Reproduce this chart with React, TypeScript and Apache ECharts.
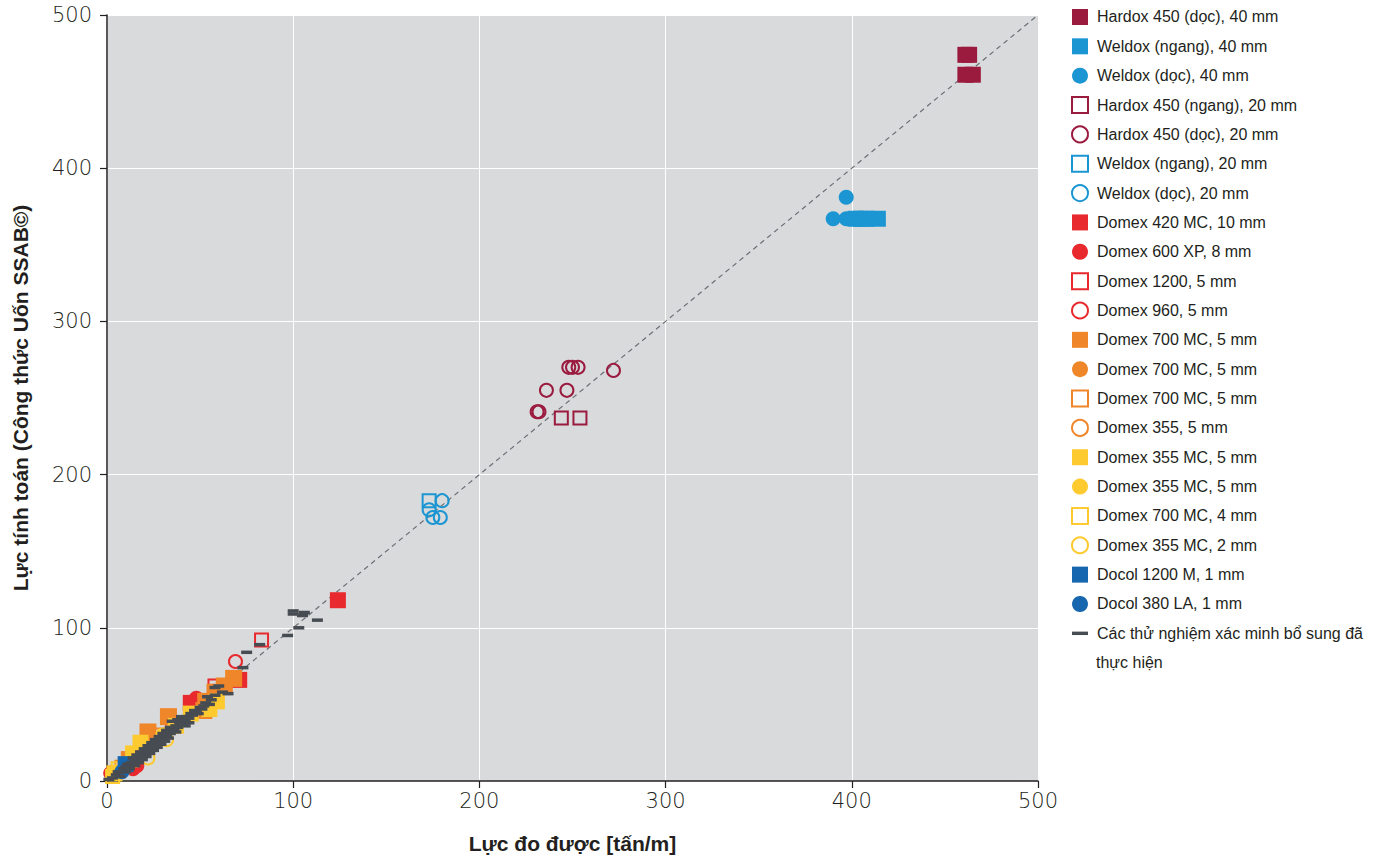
import React, { useEffect, useRef } from "react";
import * as echarts from "echarts";

const ZW = "\u200B";

// ---- data (measured force [tấn/m], calculated force) ----
const hardox40Doc = [[461, 474], [463, 474], [461, 461], [465, 461]];
const weldox40Ngang = [[402, 367], [405, 367], [408, 367], [414, 367]];
const weldox40Doc = [[390, 367], [397, 381], [397, 367], [401, 367], [407, 367]];
const hardox20Ngang = [[244, 237], [254, 237]];
const hardox20Doc = [[231, 241], [232, 241], [236, 255], [247, 255], [248, 270], [250, 270], [253, 270], [272, 268]];
const weldox20Ngang = [[173, 183]];
const weldox20Doc = [[180, 183], [173, 177], [175, 172], [179, 172]];
const domex420 = [[124, 118], [71, 66], [45, 51]];
const domex600 = [[2, 5], [14, 8], [16, 10], [48, 54]];
const domex1200 = [[83, 92], [58, 62], [4, 5]];
const domex960 = [[69, 78], [12, 10]];
const domex700Sq = [[68, 67], [63, 62], [58, 58], [53, 52], [52, 46], [33, 42], [22, 32], [12, 14]];
const domex700Circ = [[22, 25], [45, 44]];
const domex700Hollow = [[8, 9], [28, 30]];
const domex355Hollow = [[18, 20], [35, 35]];
const domex355McSq = [[59, 52], [55, 47], [45, 44], [37, 36], [18, 25], [14, 18], [4, 5]];
const domex355McCirc = [[20, 22], [30, 30]];
const domex700_4mm = [[6, 8], [3, 3]];
const domex355_2mm = [[22, 15], [32, 27], [5, 6]];
const docol1200 = [[10, 11]];
const docol380 = [[8, 6]];
const extraTests = [
  [1, 1], [3, 2], [5, 4], [6, 6], [7, 3], [8, 6], [9, 8], [10, 9], [10, 6], [11, 11],
  [12, 10], [12, 8], [13, 12], [14, 11], [14, 15], [15, 13], [15, 10], [16, 14], [16, 17], [17, 15],
  [17, 12], [18, 16], [18, 19], [19, 18], [19, 14], [20, 17], [20, 21], [21, 20], [21, 16], [22, 19],
  [22, 23], [23, 22], [23, 18], [24, 21], [24, 25], [25, 24], [25, 20], [26, 23], [26, 27], [27, 26],
  [27, 22], [28, 25], [28, 29], [29, 28], [29, 24], [30, 27], [30, 31], [31, 30], [31, 26], [32, 29],
  [32, 33], [33, 32], [33, 28], [34, 31], [34, 35], [35, 34], [35, 39], [36, 33], [37, 36], [37, 32],
  [38, 35], [38, 40], [39, 38], [40, 37], [40, 42], [41, 40], [42, 36], [42, 39], [43, 42], [44, 38],
  [44, 41], [45, 44], [46, 43], [47, 46], [48, 45], [49, 44], [50, 48], [51, 47], [52, 49], [53, 51],
  [54, 55], [55, 50], [56, 53], [58, 56], [58, 61], [60, 62], [62, 58], [65, 57], [73, 74], [75, 84],
  [82, 89], [97, 95], [100, 109], [100, 111], [103, 100], [105, 108], [106, 110], [113, 105],
];
const diagonal = [[0, 0], [500, 500]];

const xTicks = { min: 0, max: 500, interval: 100 };
const yTicks = { min: 0, max: 500, interval: 100 };

const CRIMSON = "#9b1b3f";
const BLUE = "#1b96d3";
const RED = "#e8292d";
const ORANGE = "#f0862a";
const YELLOW = "#fdca30";
const DARKBLUE = "#1766b0";
const DASH = "#474c53";

type S = { name: string; data: number[][]; symbol: string; color: string; hollow?: boolean; size: any };

const seriesDefs: S[] = [
  { name: "Hardox 450 (dọc), 40 mm", data: hardox40Doc, symbol: "rect", color: CRIMSON, size: 16 },
  { name: "Weldox (ngang), 40 mm", data: weldox40Ngang, symbol: "rect", color: BLUE, size: 16 },
  { name: "Weldox (dọc), 40 mm", data: weldox40Doc, symbol: "circle", color: BLUE, size: 15 },
  { name: "Hardox 450 (ngang), 20 mm", data: hardox20Ngang, symbol: "rect", color: CRIMSON, hollow: true, size: 13 },
  { name: "Hardox 450 (dọc), 20 mm", data: hardox20Doc, symbol: "circle", color: CRIMSON, hollow: true, size: 13 },
  { name: "Weldox (ngang), 20 mm", data: weldox20Ngang, symbol: "rect", color: BLUE, hollow: true, size: 13 },
  { name: "Weldox (dọc), 20 mm", data: weldox20Doc, symbol: "circle", color: BLUE, hollow: true, size: 13 },
  { name: "Domex 420 MC, 10 mm", data: domex420, symbol: "rect", color: RED, size: 16 },
  { name: "Domex 600 XP, 8 mm", data: domex600, symbol: "circle", color: RED, size: 15 },
  { name: "Domex 1200, 5 mm", data: domex1200, symbol: "rect", color: RED, hollow: true, size: 13 },
  { name: "Domex 960, 5 mm", data: domex960, symbol: "circle", color: RED, hollow: true, size: 13 },
  { name: "Domex 700 MC, 5 mm", data: domex700Sq, symbol: "rect", color: ORANGE, size: 17 },
  { name: "Domex 700 MC, 5 mm" + ZW, data: domex700Circ, symbol: "circle", color: ORANGE, size: 15 },
  { name: "Domex 700 MC, 5 mm" + ZW + ZW, data: domex700Hollow, symbol: "rect", color: ORANGE, hollow: true, size: 13 },
  { name: "Domex 355, 5 mm", data: domex355Hollow, symbol: "circle", color: ORANGE, hollow: true, size: 13 },
  { name: "Domex 355 MC, 5 mm", data: domex355McSq, symbol: "rect", color: YELLOW, size: 16 },
  { name: "Domex 355 MC, 5 mm" + ZW, data: domex355McCirc, symbol: "circle", color: YELLOW, size: 15 },
  { name: "Domex 700 MC, 4 mm", data: domex700_4mm, symbol: "rect", color: YELLOW, hollow: true, size: 13 },
  { name: "Domex 355 MC, 2 mm", data: domex355_2mm, symbol: "circle", color: YELLOW, hollow: true, size: 13 },
  { name: "Docol 1200 M, 1 mm", data: docol1200, symbol: "rect", color: DARKBLUE, size: 16 },
  { name: "Docol 380 LA, 1 mm", data: docol380, symbol: "circle", color: DARKBLUE, size: 15 },
];
const extraName = "Các thử nghiệm xác minh bổ sung đã thực hiện";
const extraFirstLine = "Các thử nghiệm xác minh bổ sung đã";
const extraSecondLine = "thực hiện";

const LEGEND_FONT = "'Liberation Sans', Arial, Helvetica, sans-serif";
const TICK_FONT = "'DejaVu Sans ExtraLight', 'DejaVu Sans Light', Lato, sans-serif";
const STEP = 29.35;

export default function App() {
  const ref = useRef<HTMLDivElement>(null);
  useEffect(() => {
    if (!ref.current) return;
    const chart = echarts.init(ref.current, null, { renderer: "svg" });
    const series: any[] = [
      {
        type: "line",
        data: diagonal,
        symbol: "none",
        silent: true,
        z: 1,
        lineStyle: { color: "#6c6f76", width: 1.2, type: [5, 4] },
      },
      ...seriesDefs.map((s) => ({
        type: "scatter",
        name: s.name,
        data: s.data,
        symbol: s.symbol,
        symbolSize: s.size,
        z: 2,
        itemStyle: s.hollow
          ? { color: "rgba(0,0,0,0)", borderColor: s.color, borderWidth: 2, opacity: 1 }
          : { color: s.color, opacity: 1 },
      })),
      {
        type: "scatter",
        name: extraName,
        data: extraTests,
        symbol: "rect",
        symbolSize: [11, 3.5],
        z: 3,
        itemStyle: { color: DASH, opacity: 1 },
      },
    ];
    const textStyle = { fontFamily: LEGEND_FONT, fontSize: 16, color: "#231f20", lineHeight: STEP, padding: [0, 0, 0, 4] };
    const legendData: any[] = seriesDefs.map((s) => s.name);
    legendData.push({ name: extraName, icon: "path://M0,0H14V3H0Z" });
    const tickLabel = { fontFamily: TICK_FONT, fontWeight: 200, fontSize: 21, color: "#231f20" };
    chart.setOption({
      animation: false,
      backgroundColor: "#ffffff",
      grid: { left: 107, top: 15, right: 340, bottom: 77, show: true, backgroundColor: "#d9dadc", borderWidth: 0 },
      xAxis: {
        type: "value",
        ...xTicks,
        name: "Lực đo được [tấn/m]",
        nameLocation: "middle",
        nameGap: 52,
        nameTextStyle: { fontFamily: LEGEND_FONT, fontWeight: "bold", fontSize: 21, color: "#231f20" },
        axisLine: { show: true, onZero: false, lineStyle: { color: "#231f20", width: 1.5 } },
        axisTick: { show: true, length: 7, lineStyle: { color: "#231f20", width: 1.2 } },
        axisLabel: { ...tickLabel, margin: 9 },
        splitLine: { show: true, lineStyle: { color: "#ffffff", width: 1 } },
      },
      yAxis: {
        type: "value",
        ...yTicks,
        name: "Lực tính toán (Công thức Uốn SSAB©)",
        nameLocation: "middle",
        nameGap: 76,
        nameRotate: 90,
        nameTextStyle: { fontFamily: LEGEND_FONT, fontWeight: "bold", fontSize: 21, color: "#231f20" },
        axisLine: { show: true, onZero: false, lineStyle: { color: "#231f20", width: 1.5 } },
        axisTick: { show: true, length: 7, lineStyle: { color: "#231f20", width: 1.2 } },
        axisLabel: { ...tickLabel, margin: 15 },
        splitLine: { show: true, lineStyle: { color: "#ffffff", width: 1 } },
      },
      legend: {
        orient: "vertical",
        left: 1071,
        top: 2.3,
        padding: 0,
        itemGap: 0,
        itemWidth: 16,
        itemHeight: 16,
        selectedMode: false,
        data: legendData,
        formatter: (n: string) => (n === extraName ? extraFirstLine : n.split(ZW).join("")),
        textStyle,
      },
      graphic: [
        {
          type: "text",
          left: 1096,
          top: 663 - STEP / 2,
          style: {
            text: extraSecondLine,
            fontFamily: LEGEND_FONT,
            fontSize: 16,
            fill: "#231f20",
            lineHeight: STEP,
          },
        },
      ],
      series,
    });
    return () => chart.dispose();
  }, []);
  return <div ref={ref} style={{ position: "fixed", left: 0, top: 0, width: 1378, height: 859 }} />;
}
